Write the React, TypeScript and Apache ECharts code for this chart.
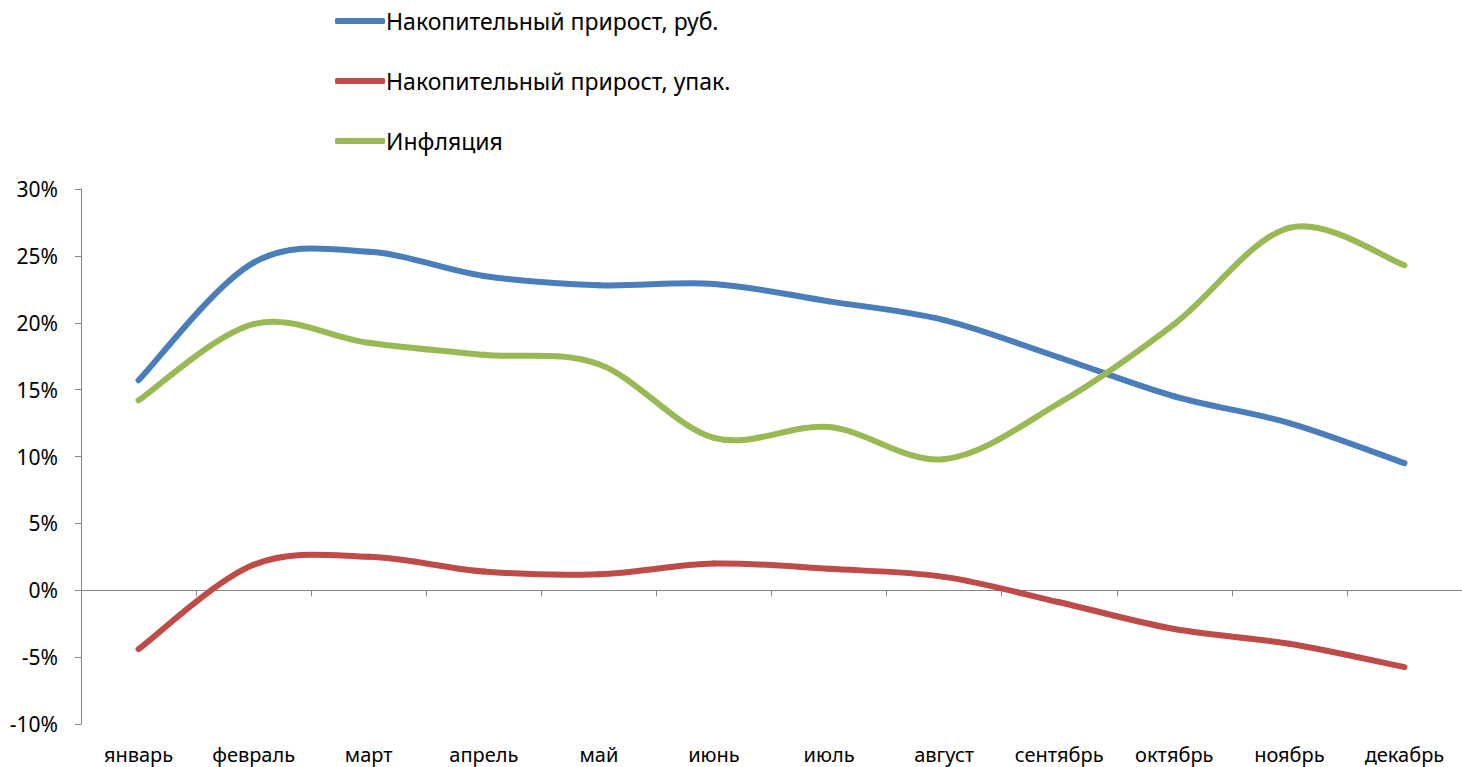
import React, { useEffect, useRef } from "react";
import * as echarts from "echarts";

const months = ["январь", "февраль", "март", "апрель", "май", "июнь", "июль", "август", "сентябрь", "октябрь", "ноябрь", "декабрь"];
const seriesNames = ["Накопительный прирост, руб.", "Накопительный прирост, упак.", "Инфляция"];
const rubGrowth = [15.7, 24.5, 25.3, 23.5, 22.8, 22.9, 21.6, 20.2, 17.4, 14.5, 12.5, 9.5];
const packGrowth = [-4.4, 1.9, 2.5, 1.4, 1.2, 2.0, 1.6, 1.0, -0.9, -2.9, -4.0, -5.75];
const inflation = [14.2, 19.9, 18.5, 17.6, 16.9, 11.4, 12.2, 9.8, 14.0, 19.9, 27.1, 24.3];
const colors = ["#4a7ebb", "#be4b48", "#98b954"];

const FONT = "'Noto Sans', sans-serif";

export default function App() {
  const ref = useRef<HTMLDivElement>(null);
  useEffect(() => {
    if (!ref.current) return;
    const chart = echarts.init(ref.current, null, { renderer: "svg" });
    const data = [rubGrowth, packGrowth, inflation];

    const makeRender = (arr: number[], color: string) => (params: any, api: any) => {
      const i = params.dataIndex;
      const n = arr.length;
      if (i >= n - 1) return null;
      const pt = (j: number) => api.coord([Math.max(0, Math.min(n - 1, j)), arr[Math.max(0, Math.min(n - 1, j))]]);
      const p0 = pt(i - 1);
      const p1 = pt(i);
      const p2 = pt(i + 1);
      const p3 = pt(i + 2);
      const t = 1 / 6;
      return {
        type: "bezierCurve",
        shape: {
          x1: p1[0],
          y1: p1[1],
          x2: p2[0],
          y2: p2[1],
          cpx1: p1[0] + (p2[0] - p0[0]) * t,
          cpy1: p1[1] + (p2[1] - p0[1]) * t,
          cpx2: p2[0] - (p3[0] - p1[0]) * t,
          cpy2: p2[1] - (p3[1] - p1[1]) * t,
        },
        style: { stroke: color, lineWidth: 6, fill: "none", lineCap: "round" },
        silent: true,
      };
    };

    chart.setOption({
      animation: false,
      color: colors,
      textStyle: { fontFamily: FONT },
      legend: {
        orient: "vertical",
        left: 330,
        top: 4,
        itemWidth: 50,
        itemHeight: 6,
        itemGap: 36,
        icon: "roundRect",
        textStyle: { fontSize: 23, color: "#000", fontFamily: FONT, lineHeight: 24, padding: [0, 0, 0, -4] },
        data: seriesNames,
      },
      grid: { left: 81, right: -4, top: 189, bottom: 43, containLabel: false },
      xAxis: [
        {
          type: "category",
          data: months,
          boundaryGap: true,
          axisLine: { show: false, onZero: false },
          axisTick: { show: false },
          axisLabel: { fontSize: 20, color: "#000", margin: 20, fontFamily: FONT, interval: 0 },
        },
        {
          type: "category",
          data: months,
          boundaryGap: true,
          position: "bottom",
          axisLine: { show: true, onZero: true, lineStyle: { color: "#868686", width: 1 } },
          axisTick: { show: true, length: 6, inside: false, lineStyle: { color: "#868686" } },
          axisLabel: { show: false },
        },
      ],
      yAxis: {
        type: "value",
        min: -10,
        max: 30,
        interval: 5,
        axisLine: { show: true, lineStyle: { color: "#868686", width: 1 } },
        axisTick: { show: true, length: 6, lineStyle: { color: "#868686" } },
        splitLine: { show: false },
        axisLabel: { fontSize: 21, color: "#000", margin: 23, formatter: "{value}%", fontFamily: FONT },
      },
      series: seriesNames.map((name, i) => ({
        name,
        type: "custom",
        xAxisIndex: 0,
        yAxisIndex: 0,
        data: data[i].map((v, j) => [j, v]),
        encode: { x: 0, y: 1 },
        renderItem: makeRender(data[i], colors[i]),
        itemStyle: { color: colors[i] },
      })),
    });
    return () => chart.dispose();
  }, []);
  return (
    <div
      ref={ref}
      style={{ position: "absolute", left: 0, top: 0, width: 1462, height: 767, background: "#fff" }}
    />
  );
}
